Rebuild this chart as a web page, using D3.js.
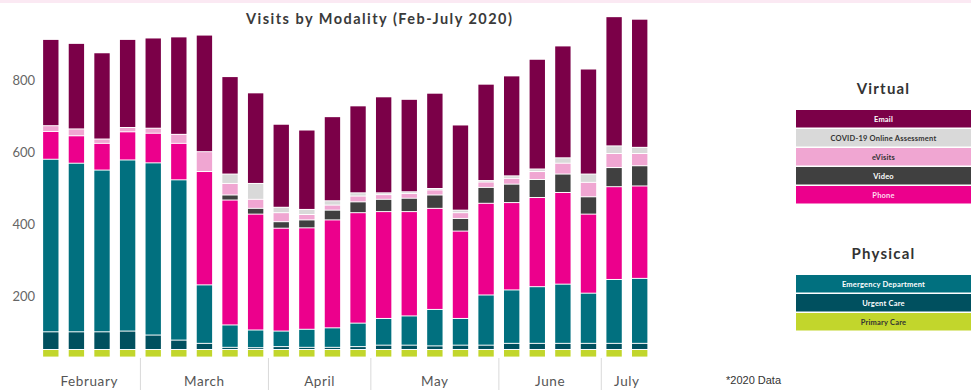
<!DOCTYPE html>
<html>
<head>
<meta charset="utf-8">
<script src="https://cdn.jsdelivr.net/npm/d3@7"></script>
<style>
  body { margin: 0; background: #fff; }
  svg { display: block; font-family: Lato, "Open Sans", sans-serif; }
</style>
</head>
<body>
<div id="chart"></div>
<script>
// Weekly visit counts, Feb - July 2020
const months = ['February', 'March', 'April', 'May', 'June', 'July'];
const weeksPerMonth = [4, 5, 4, 5, 4, 2];

const primaryCare = [21, 21, 21, 21, 21, 21, 21, 21, 21, 21, 21, 21, 21, 21, 21, 21, 21, 21, 21, 21, 21, 21, 21, 21];
const urgentCare = [49, 49, 49, 51, 40, 26, 17, 6, 5, 8, 6, 6, 8, 12, 12, 10, 12, 12, 17, 17, 17, 17, 17, 17];
const emergencyDept = [478, 467, 448, 474, 477, 444, 162, 62, 49, 43, 50, 54, 65, 74, 81, 101, 74, 139, 148, 157, 164, 139, 177, 180];
const phone = [77, 76, 74, 78, 82, 101, 314, 346, 321, 285, 281, 299, 306, 296, 289, 280, 242, 254, 242, 247, 254, 219, 257, 256];
const video = [0, 0, 0, 0, 0, 0, 0, 14, 16, 18, 22, 27, 30, 34, 37, 37, 35, 44, 51, 50, 51, 48, 53, 56];
const eVisits = [16, 19, 12, 12, 14, 25, 55, 32, 25, 25, 15, 14, 16, 13, 13, 14, 16, 15, 16, 22, 30, 40, 39, 34];
const covidOnline = [0, 0, 0, 0, 0, 0, 0, 26, 44, 15, 14, 12, 9, 5, 5, 4, 7, 4, 7, 7, 15, 23, 21, 17];
const email = [239, 237, 239, 244, 250, 270, 323, 270, 251, 230, 220, 233, 241, 266, 256, 264, 236, 267, 277, 304, 310, 291, 358, 355];

const yTicks = [200, 400, 600, 800];

// bars in the original start a little above the axis zero
const stackBase = 33;

const width = 971;
const height = 390;

const series = [
  { key: 'Primary Care', values: primaryCare, color: '#c2d62c', text: '#333' },
  { key: 'Urgent Care', values: urgentCare, color: '#00505f', text: '#fff' },
  { key: 'Emergency Department', values: emergencyDept, color: '#01707f', text: '#fff' },
  { key: 'Phone', values: phone, color: '#ec008c', text: '#fde' },
  { key: 'Video', values: video, color: '#404040', text: '#fff' },
  { key: 'eVisits', values: eVisits, color: '#f0a6d2', text: '#333' },
  { key: 'COVID-19 Online Assessment', values: covidOnline, color: '#d9d9d9', text: '#333' },
  { key: 'Email', values: email, color: '#7b0048', text: '#fff' }
];
const colorOf = Object.fromEntries(series.map(s => [s.key, s]));

// one row per week
const weeks = [];
months.forEach((m, mi) => {
  for (let w = 0; w < weeksPerMonth[mi]; w++) weeks.push({ month: m, idx: weeks.length });
});
const rows = weeks.map(w => {
  const r = { idx: w.idx };
  series.forEach(s => { r[s.key] = s.values[w.idx]; });
  return r;
});

const stacked = d3.stack().keys(series.map(s => s.key))(rows);

const svg = d3.select('#chart').append('svg')
  .attr('width', width)
  .attr('height', height);

// thin pink strip along the top edge
svg.append('rect')
  .attr('x', 0).attr('y', 0).attr('width', width).attr('height', 3)
  .attr('fill', '#fbe9f3');

const x = d3.scaleBand()
  .domain(weeks.map(w => w.idx))
  .range([38, 652.5])
  .paddingInner(0.4)
  .paddingOuter(0.2);

const y = d3.scaleLinear()
  .domain([0, 1000])
  .range([369, 8]);

// title
svg.append('text')
  .attr('x', 379)
  .attr('y', 24)
  .attr('text-anchor', 'middle')
  .attr('font-size', 14.5)
  .attr('font-weight', 'bold')
  .attr('fill', '#3a3a3a')
  .attr('textLength', 266)
  .attr('lengthAdjust', 'spacing')
  .text('Visits by Modality (Feb-July 2020)');

// y axis, labels only
const yAxis = svg.append('g')
  .attr('transform', 'translate(35,0)')
  .call(d3.axisLeft(y).tickValues(yTicks).tickSize(0).tickPadding(0));
yAxis.select('.domain').remove();
yAxis.selectAll('text')
  .attr('font-size', 13)
  .attr('font-family', 'Lato, "Open Sans", sans-serif')
  .attr('fill', '#666');

// stacked bars
svg.append('g')
  .selectAll('g')
  .data(stacked)
  .enter()
  .append('g')
  .attr('fill', d => colorOf[d.key].color)
  .selectAll('rect')
  .data(d => d.filter(p => p[1] > p[0]))
  .enter()
  .append('rect')
  .attr('x', d => x(d.data.idx))
  .attr('width', x.bandwidth())
  .attr('y', d => y(d[1] + stackBase) + 0.5)
  .attr('height', d => Math.max(0.6, y(d[0] + stackBase) - y(d[1] + stackBase) - 1));

// month separators and labels
const groups = [];
let start = 0;
months.forEach((m, mi) => {
  const end = start + weeksPerMonth[mi] - 1;
  groups.push({ month: m, first: start, last: end });
  start = end + 1;
});

const halfGap = x.step() * x.paddingInner() / 2;
svg.append('g')
  .selectAll('line')
  .data(groups.slice(1))
  .enter()
  .append('line')
  .attr('x1', d => x(d.first) - halfGap)
  .attr('x2', d => x(d.first) - halfGap)
  .attr('y1', 358)
  .attr('y2', 390)
  .attr('stroke', '#d9d9d9')
  .attr('stroke-width', 1);

svg.append('g')
  .selectAll('text')
  .data(groups)
  .enter()
  .append('text')
  .attr('x', d => (x(d.first) + x(d.last) + x.bandwidth()) / 2)
  .attr('y', 386)
  .attr('text-anchor', 'middle')
  .attr('font-size', 13.5)
  .attr('letter-spacing', 0.6)
  .attr('fill', '#555')
  .text(d => d.month);

// legend
const legendX = 796;
const legendW = 175;
const legendGroups = [
  { title: 'Virtual', titleY: 94, top: 110, keys: ['Email', 'COVID-19 Online Assessment', 'eVisits', 'Video', 'Phone'] },
  { title: 'Physical', titleY: 259, top: 275, keys: ['Emergency Department', 'Urgent Care', 'Primary Care'] }
];
const rowStep = 19;
const rowH = 17.5;

legendGroups.forEach(g => {
  svg.append('text')
    .attr('x', legendX + legendW / 2)
    .attr('y', g.titleY)
    .attr('text-anchor', 'middle')
    .attr('font-size', 15)
    .attr('font-weight', 'bold')
    .attr('letter-spacing', 1.2)
    .attr('fill', '#333')
    .text(g.title);

  const items = svg.append('g')
    .selectAll('g')
    .data(g.keys)
    .enter()
    .append('g')
    .attr('transform', (d, i) => `translate(${legendX},${g.top + i * rowStep})`);

  items.append('rect')
    .attr('width', legendW)
    .attr('height', rowH)
    .attr('fill', d => colorOf[d].color);

  items.append('text')
    .attr('x', legendW / 2)
    .attr('y', rowH / 2 + 2.8)
    .attr('text-anchor', 'middle')
    .attr('font-size', 7.5)
    .attr('font-weight', 'bold')
    .attr('letter-spacing', 0.2)
    .attr('fill', d => colorOf[d].text)
    .text(d => d);
});

// footnote
svg.append('text')
  .attr('x', 726)
  .attr('y', 384)
  .attr('font-family', '"Liberation Sans", Arial, sans-serif')
  .attr('font-size', 11)
  .attr('fill', '#333')
  .text('*2020 Data');
</script>
</body>
</html>
